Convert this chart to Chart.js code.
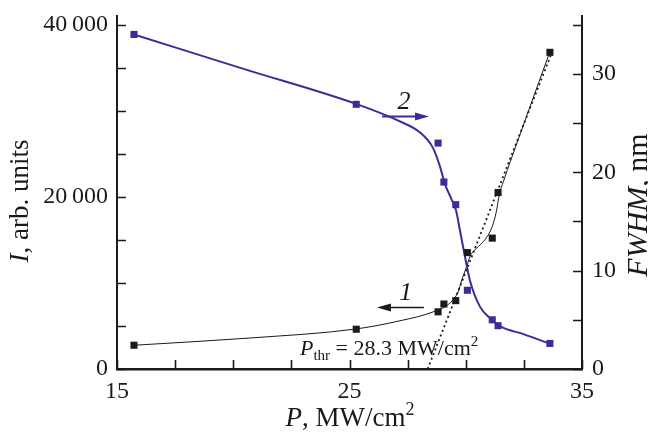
<!DOCTYPE html>
<html><head><meta charset="utf-8">
<script src="https://cdn.jsdelivr.net/npm/chart.js@4/dist/chart.umd.min.js"></script>
<style>html,body{margin:0;padding:0;background:#fff;overflow:hidden}</style>
</head><body>
<canvas id="c" width="648" height="432"></canvas>
<script>
// ---- measured points (P in MW/cm^2) ----
const pointsP   = [15.73, 25.29, 28.81, 29.06, 29.57, 30.07, 31.14, 31.39, 33.62];
const intensity = [2760, 4620, 6640, 7550, 7940, 13520, 15200, 20500, 36780];   // curve 1, left axis
const fwhm      = [34.0, 26.9, 22.96, 19.0, 16.7, 8.0, 5.0, 4.4, 2.6];          // curve 2, right axis

// ---- fitted curves ----
const fit1P = [15.73, 20.72, 25.28, 27.17, 28.59, 29.32, 29.67, 29.83, 30.04, 30.18, 30.47, 30.76, 31.01, 31.19, 31.33, 31.44, 31.62, 32.33, 33.62];
const fit1I = [2760, 3600, 4650, 5600, 6630, 7670, 8950, 10350, 11900, 13060, 14040, 14800, 15780, 16940, 18490, 20230, 21780, 27210, 36860];
const fit2P = [15.73, 20.51, 25.28, 27.17, 28.03, 28.59, 28.89, 29.11, 29.37, 29.58, 29.75, 29.97, 30.18, 30.61, 31.04, 31.47, 32.51, 33.62];
const fit2F = [33.99, 30.45, 26.94, 25.16, 24.04, 22.47, 20.59, 18.77, 17.35, 16.13, 14.10, 11.38, 9.00, 6.34, 5.17, 4.36, 3.52, 2.57];
const thrP = [28.36, 33.68];
const thrI = [0, 36600];

// ---- ticks ----
const xTicks  = [15, 17.5, 20, 22.5, 25, 27.5, 30, 32.5, 35];
const xLabels = {15: '15', 25: '25', 35: '35'};
const yTicks  = [0, 5000, 10000, 15000, 20000, 25000, 30000, 35000, 40000];
const yLabels = {0: '0', 20000: '20\u2009000', 40000: '40\u2009000'};
const y2Ticks = [0, 5, 10, 15, 20, 25, 30, 35];
const y2Labels = {0: '0', 10: '10', 20: '20', 30: '30'};

const BLUE = '#3a2d96', BLACK = '#1a1a1a';
const SERIF = '"Liberation Serif", "Times New Roman", serif';
const xy = (xs, ys) => xs.map((x, i) => ({x, y: ys[i]}));

function rich(ctx, parts, x, y, align) {
  let w = 0;
  parts.forEach(p => { ctx.font = p.f; w += ctx.measureText(p.t).width; });
  let cx = align === 'center' ? x - w / 2 : x;
  parts.forEach(p => {
    ctx.font = p.f;
    ctx.fillText(p.t, cx, y + (p.dy || 0));
    cx += ctx.measureText(p.t).width;
  });
}

const decor = {
  id: 'decor',
  afterDraw(chart) {
    const ctx = chart.ctx, a = chart.chartArea;
    const X = chart.scales.x, Y = chart.scales.y, Y2 = chart.scales.y2;
    ctx.save();
    ctx.strokeStyle = BLACK; ctx.lineWidth = 1.6;
    const L = 9;
    ctx.beginPath();
    xTicks.forEach(v => { const p = Math.round(X.getPixelForValue(v)) + 0.5; ctx.moveTo(p, a.bottom); ctx.lineTo(p, a.bottom - L); });
    yTicks.forEach(v => { const p = Math.round(Y.getPixelForValue(v)) + 0.5; ctx.moveTo(a.left, p); ctx.lineTo(a.left + L, p); });
    y2Ticks.forEach(v => { const p = Math.round(Y2.getPixelForValue(v)) + 0.5; ctx.moveTo(a.right, p); ctx.lineTo(a.right - L, p); });
    ctx.stroke();

    // arrows
    const arrow = (x1, x2, y, color, lw) => {
      const dir = Math.sign(x2 - x1);
      ctx.strokeStyle = color; ctx.fillStyle = color; ctx.lineWidth = lw;
      ctx.beginPath(); ctx.moveTo(x1, y); ctx.lineTo(x2 - dir * 10, y); ctx.stroke();
      ctx.beginPath(); ctx.moveTo(x2, y); ctx.lineTo(x2 - dir * 14, y - 4); ctx.lineTo(x2 - dir * 14, y + 4); ctx.closePath(); ctx.fill();
    };
    arrow(X.getPixelForValue(26.40), X.getPixelForValue(28.42), Y2.getPixelForValue(25.67), BLUE, 2);
    arrow(X.getPixelForValue(28.20), X.getPixelForValue(26.18), Y.getPixelForValue(7130), BLACK, 1.5);

    ctx.fillStyle = BLACK;
    ctx.textBaseline = 'alphabetic';
    ctx.textAlign = 'left';
    rich(ctx, [{t: '2', f: 'italic 26px ' + SERIF}], X.getPixelForValue(27.34), Y2.getPixelForValue(25.67) - 7, 'center');
    rich(ctx, [{t: '1', f: 'italic 26px ' + SERIF}], X.getPixelForValue(27.42), Y.getPixelForValue(7130) - 8, 'center');

    // threshold label
    rich(ctx, [
      {t: 'P', f: 'italic 22px ' + SERIF},
      {t: 'thr', f: '15px ' + SERIF, dy: 5},
      {t: ' = 28.3 MW/cm', f: '22px ' + SERIF},
      {t: '2', f: '15px ' + SERIF, dy: -9}
    ], X.getPixelForValue(22.87), Y.getPixelForValue(1630), 'left');

    // x title
    rich(ctx, [
      {t: 'P', f: 'italic 27px ' + SERIF},
      {t: ', MW/cm', f: '27px ' + SERIF},
      {t: '2', f: '18px ' + SERIF, dy: -11}
    ], 350, 426, 'center');

    // left title
    ctx.save(); ctx.translate(28, 201); ctx.rotate(-Math.PI / 2);
    rich(ctx, [{t: 'I', f: 'italic 27px ' + SERIF}, {t: ', arb. units', f: '27px ' + SERIF}], 0, 0, 'center');
    ctx.restore();
    // right title
    ctx.save(); ctx.translate(647, 205); ctx.rotate(-Math.PI / 2);
    rich(ctx, [{t: 'FWHM', f: 'italic 30px ' + SERIF}, {t: ', nm', f: '30px ' + SERIF}], 0, 0, 'center');
    ctx.restore();
    ctx.restore();
  }
};

const tickFont = {family: SERIF, size: 24};
new Chart(document.getElementById('c'), {
  type: 'line',
  data: {
    datasets: [
      {data: xy(pointsP, intensity), yAxisID: 'y', showLine: false, pointStyle: 'rect', pointRadius: 5, pointBackgroundColor: BLACK, pointBorderWidth: 0, borderColor: BLACK},
      {data: xy(pointsP, fwhm), yAxisID: 'y2', showLine: false, pointStyle: 'rect', pointRadius: 5, pointBackgroundColor: BLUE, pointBorderWidth: 0, borderColor: BLUE},
      {data: xy(fit2P, fit2F), yAxisID: 'y2', borderColor: BLUE, borderWidth: 2, pointRadius: 0, cubicInterpolationMode: 'monotone'},
      {data: xy(fit1P, fit1I), yAxisID: 'y', borderColor: BLACK, borderWidth: 1, pointRadius: 0, cubicInterpolationMode: 'monotone'},
      {data: xy(thrP, thrI), yAxisID: 'y', borderColor: BLACK, borderWidth: 1.8, borderDash: [2, 3], pointRadius: 0}
    ]
  },
  options: {
    responsive: false,
    animation: false,
    devicePixelRatio: 1,
    layout: {padding: {top: 16, left: 0, right: 0, bottom: 0}},
    plugins: {legend: {display: false}, tooltip: {enabled: false}},
    scales: {
      x: {
        type: 'linear', min: 15, max: 35,
        afterBuildTicks: s => { s.ticks = xTicks.map(v => ({value: v})); },
        afterFit: s => { s.height = 63; s.paddingLeft = 0; s.paddingRight = 0; },
        grid: {display: false, drawTicks: false},
        border: {display: true, color: BLACK, width: 2.5},
        ticks: {autoSkip: false, maxRotation: 0, padding: 8, color: BLACK, font: tickFont, callback: v => xLabels[v] || ''}
      },
      y: {
        type: 'linear', position: 'left', min: 0, max: 41000,
        afterBuildTicks: s => { s.ticks = yTicks.map(v => ({value: v})); },
        afterFit: s => { s.width = 117; s.paddingTop = 0; s.paddingBottom = 0; },
        grid: {display: false, drawTicks: false},
        border: {display: true, color: BLACK, width: 2},
        ticks: {autoSkip: false, padding: 9, color: BLACK, font: tickFont, callback: v => yLabels[v] || ''}
      },
      y2: {
        type: 'linear', position: 'right', min: 0, max: 35.875,
        afterBuildTicks: s => { s.ticks = y2Ticks.map(v => ({value: v})); },
        afterFit: s => { s.width = 66; s.paddingTop = 0; s.paddingBottom = 0; },
        grid: {display: false, drawTicks: false},
        border: {display: true, color: BLACK, width: 2},
        ticks: {autoSkip: false, padding: 10, color: BLACK, font: tickFont, callback: v => y2Labels[v] || ''}
      }
    }
  },
  plugins: [decor]
});
</script>
</body></html>
